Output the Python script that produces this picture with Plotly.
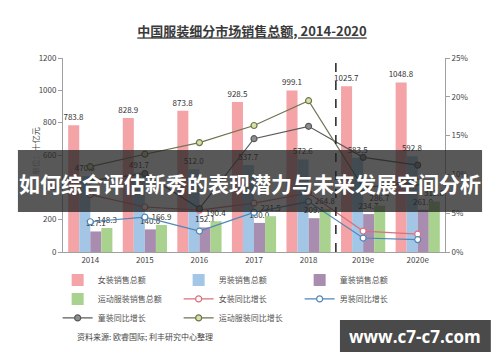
import plotly.graph_objects as go

# ---- data ----
years = ['2014', '2015', '2016', '2017', '2018', '2019e', '2020e']
women_sales = [783.8, 828.9, 873.8, 928.5, 999.1, 1025.7, 1048.8]
men_sales = [470.3, 491.7, 512.0, 537.7, 572.6, 583.5, 592.8]
kids_sales = [127.1, 140.0, 152.1, 180.0, 209.1, 234.7, 261.0]
sports_sales = [148.3, 166.9, 190.4, 221.5, 264.8, 286.7, 312.6]
women_growth = [7.4, 5.8, 5.4, 6.3, 7.6, 2.7, 2.3]
men_growth = [3.9, 4.5, 2.7, 5.1, 6.5, 1.8, 1.6]
kids_growth = [9.2, 10.1, 5.6, 14.6, 16.2, 12.2, 11.2]
sports_growth = [11.0, 12.6, 14.1, 16.3, 19.5, 8.3, 9.0]

bar_names = ['女装销售总额', '男装销售总额', '童装销售总额', '运动服装销售总额']
line_names = ['女装同比增长', '男装同比增长', '童装同比增长', '运动服装同比增长']
forecast_start = '2019e'
y_title = '单位：十亿元'

FONT = 'Noto Sans CJK SC'
bar_colors = ['#F4A3A6', '#A3C6E6', '#A98DB0', '#A9D28F']
line_colors = ['#D9707E', '#4F86B8', '#5A5A5A', '#6E7352']
marker_fills = ['#FFFFFF', '#FFFFFF', '#8E8E8E', '#D6E2A2']

fig = go.Figure()
for name, vals, col in zip(bar_names, [women_sales, men_sales, kids_sales, sports_sales], bar_colors):
    fig.add_trace(go.Bar(
        x=years, y=vals, name=name, marker=dict(color=col, line=dict(width=0)),
        text=[f'{v:.1f}' for v in vals], textposition='outside',
        textfont=dict(size=8, color='#333333', family=FONT),
        constraintext='none', cliponaxis=False, yaxis='y'))

for name, vals, col, fill in zip(line_names, [women_growth, men_growth, kids_growth, sports_growth],
                                 line_colors, marker_fills):
    fig.add_trace(go.Scatter(
        x=years, y=vals, name=name, mode='lines+markers', yaxis='y2',
        line=dict(color=col, width=1.2),
        marker=dict(symbol='circle', size=6, color=fill, line=dict(color=col, width=1.2))))

xi = years.index(forecast_start) - 0.5

fig.update_layout(
    width=500, height=362,
    paper_bgcolor='white', plot_bgcolor='white',
    margin=dict(l=63, r=55, t=58, b=110),
    font=dict(family=FONT, size=8, color='#444444'),
    title=dict(text='<b><u>中国服装细分市场销售总额, 2014-2020</u></b>',
               x=0.504, xanchor='center', y=0.912, yanchor='middle',
               font=dict(size=13, color='#3A3A3A', family=FONT)),
    barmode='group', bargap=0.19, bargroupgap=0.0,
    xaxis=dict(type='category', showline=True, linecolor='#A0A0A0', linewidth=1,
               ticks='', showgrid=False,
               tickfont=dict(size=8, color='#444444', family=FONT)),
    yaxis=dict(range=[0, 1200], dtick=200, showgrid=False, zeroline=False,
               showline=True, linecolor='#A0A0A0', ticks='outside', ticklen=4,
               tickcolor='#A0A0A0', tickfont=dict(size=8, color='#444444')),
    yaxis2=dict(range=[0, 25], dtick=5, ticksuffix='%', overlaying='y', side='right',
                showgrid=False, zeroline=False, showline=True, linecolor='#A0A0A0',
                ticks='outside', ticklen=4, tickcolor='#A0A0A0',
                tickfont=dict(size=8, color='#444444')),
    legend=dict(orientation='h', x=-0.014, xanchor='left', y=-0.069, yanchor='top',
                entrywidth=76, entrywidthmode='pixels', traceorder='normal',
                font=dict(size=8, color='#555555', family=FONT),
                bgcolor='rgba(0,0,0,0)', itemwidth=30, tracegroupgap=0),
    shapes=[
        dict(type='line', xref='x', yref='paper', x0=xi, x1=xi, y0=0, y1=1.0,
             line=dict(color='#222222', width=1.5, dash='dash'), layer='above'),
        dict(type='rect', xref='paper', yref='paper', x0=-0.118, x1=1.097, y0=0.206, y1=0.526,
             fillcolor='rgba(35,35,35,0.76)', line=dict(width=0), layer='above'),
        dict(type='rect', xref='paper', yref='paper', x0=0.725, x1=1.120, y0=-0.515, y1=-0.351,
             fillcolor='#4A4A4A', line=dict(width=0), layer='above'),
    ],
    annotations=[
        dict(text=y_title, xref='paper', yref='paper', x=-0.073, y=0.52,
             xanchor='center', yanchor='middle', textangle=-90, showarrow=False,
             font=dict(size=8, color='#444444', family=FONT)),
        dict(text='<b>如何综合评估新秀的表现潜力与未来发展空间分析</b>', xref='paper', yref='paper',
             x=0.49, y=0.356, xanchor='center', yanchor='middle', showarrow=False,
             font=dict(size=21, color='white', family=FONT)),
        dict(text='资料来源: 欧睿国际; 利丰研究中心整理', xref='paper', yref='paper',
             x=0.031, y=-0.433, xanchor='left', yanchor='middle', showarrow=False,
             font=dict(size=8, color='#444444', family=FONT)),
        dict(text='<b>www.c7-c7.com</b>', xref='paper', yref='paper',
             x=0.921, y=-0.433, xanchor='center', yanchor='middle', showarrow=False,
             font=dict(size=17, color='white', family='Open Sans')),
    ],
)

fig.write_html('out.html', config={'displayModeBar': False},
               post_script="document.body.style.margin='0';document.body.style.padding='0';")
